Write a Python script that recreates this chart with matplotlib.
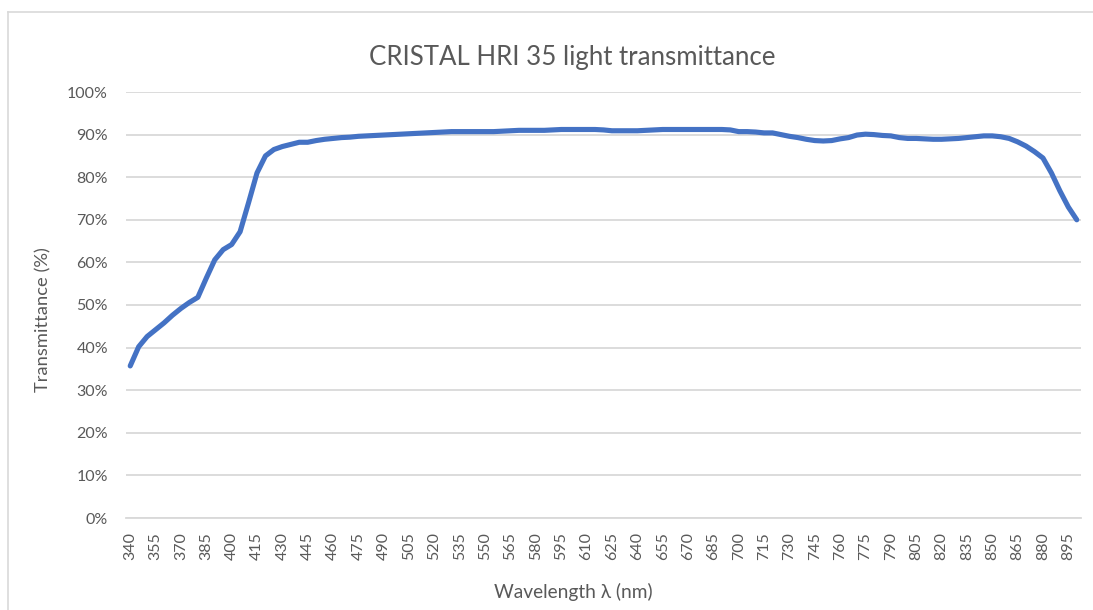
import matplotlib
matplotlib.use("Agg")
import matplotlib.pyplot as plt
from matplotlib.lines import Line2D

wavelengths = list(range(340, 905, 5))
transmittance = [
    35.7, 40.2, 42.6, 44.2, 45.8, 47.6, 49.2, 50.6, 51.8, 56.3,
    60.6, 63.0, 64.2, 67.2, 74.0, 81.0, 85.0, 86.5, 87.2, 87.7,
    88.2, 88.2, 88.6, 88.9, 89.1, 89.3, 89.4, 89.6, 89.7, 89.8,
    89.9, 90.0, 90.1, 90.2, 90.3, 90.4, 90.5, 90.6, 90.7, 90.7,
    90.7, 90.7, 90.7, 90.7, 90.8, 90.9, 91.0, 91.0, 91.0, 91.0,
    91.1, 91.2, 91.2, 91.2, 91.2, 91.2, 91.1, 90.9, 90.9, 90.9,
    90.9, 91.0, 91.1, 91.2, 91.2, 91.2, 91.2, 91.2, 91.2, 91.2,
    91.2, 91.1, 90.7, 90.7, 90.6, 90.4, 90.4, 90.0, 89.6, 89.3,
    88.9, 88.6, 88.5, 88.6, 89.0, 89.3, 89.9, 90.1, 90.0, 89.8,
    89.7, 89.3, 89.1, 89.1, 89.0, 88.9, 88.9, 89.0, 89.1, 89.3,
    89.5, 89.7, 89.7, 89.5, 89.1, 88.3, 87.3, 86.0, 84.5, 81.0,
    76.8, 73.0, 70.0,
]
y_ticks = list(range(0, 101, 10))
y_tick_labels = [f"{v}%" for v in y_ticks]

title = "CRISTAL HRI 35 light transmittance"
x_title = "Wavelength λ (nm)"
y_title = "Transmittance (%)"

FONT = ["Lato", "DejaVu Sans"]
TXT = "#595959"
GRID = "#D9D9D9"
LINE = "#4472C4"

W, H = 1093, 610
fig = plt.figure(figsize=(W / 100, H / 100), dpi=100)
fig.patch.set_facecolor("white")

# chart border (left and top visible)
fig.add_artist(Line2D([8 / W, 8 / W], [0, 1 - 12 / H], color=GRID, lw=1.2, transform=fig.transFigure))
fig.add_artist(Line2D([8 / W, 1], [1 - 12 / H, 1 - 12 / H], color=GRID, lw=1.2, transform=fig.transFigure))

left, right, top, bottom = 126, 1081, 92, 518
ax = fig.add_axes([left / W, 1 - bottom / H, (right - left) / W, (bottom - top) / H])

xs = list(range(len(wavelengths)))
ax.plot(xs, transmittance, color=LINE, lw=3.7, solid_capstyle="round", solid_joinstyle="round", zorder=3)

ax.set_xlim(-0.5, len(wavelengths) - 0.5)
ax.set_ylim(0, 100)
ax.set_yticks(y_ticks)
ax.set_yticklabels(y_tick_labels, fontfamily=FONT, fontsize=11.5, color=TXT)
tick_idx = xs[::3]
ax.set_xticks(tick_idx)
ax.set_xticklabels([str(wavelengths[i]) for i in tick_idx], rotation=90,
                   fontfamily=FONT, fontsize=11.5, color=TXT)
ax.tick_params(axis="both", length=0)
ax.tick_params(axis="y", pad=13)
ax.tick_params(axis="x", pad=10)
ax.grid(axis="y", color=GRID, lw=1.3, zorder=0)
ax.set_axisbelow(True)
for s in ["top", "right", "left"]:
    ax.spines[s].set_visible(False)
ax.spines["bottom"].set_color(GRID)
ax.spines["bottom"].set_linewidth(1.3)

fig.text(572 / W, 1 - 57 / H, title, ha="center", va="center", fontfamily=FONT, fontsize=18.6, color=TXT)
fig.text(573 / W, 1 - 592 / H, x_title, ha="center", va="center", fontfamily=FONT, fontsize=13.8, color=TXT)
fig.text(43 / W, 1 - 320 / H, y_title, ha="center", va="center", rotation=90, fontfamily=FONT, fontsize=13.2, color=TXT)

fig.savefig("out.png", dpi=100, facecolor="white")
